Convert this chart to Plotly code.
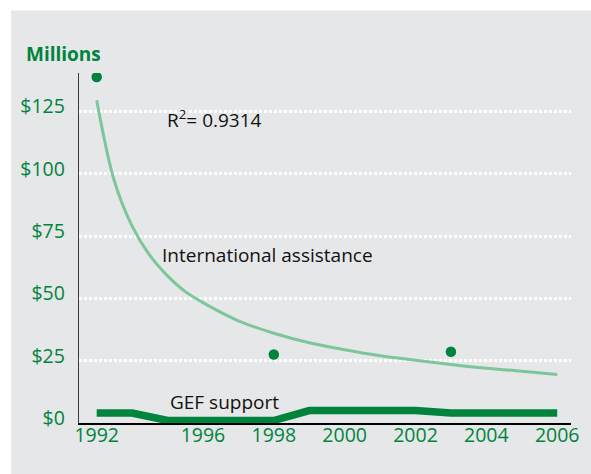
import plotly.graph_objects as go

# ---- data ----
years = ["1992", "1993", "1995", "1996", "1997", "1998", "1999",
         "2000", "2001", "2002", "2003", "2004", "2005", "2006"]
gef_support = [4, 4, 1, 1, 1, 1, 5, 5, 5, 5, 4, 4, 4, 4]
# trend line readings, at year slots (including some half-slot readings)
trend_slots = [0, 0.5, 1, 1.5, 2, 2.5, 3, 4, 5, 6, 7, 8, 9, 10, 11, 12, 13]
trend_values = [129.5, 97, 79, 67.2, 59, 52.7, 48.3, 41, 36, 32.2, 29.4, 27,
                25.2, 23.5, 22, 20.8, 19.5]
point_years = ["1992", "1998", "2003"]
point_values = [138.8, 27.5, 28.6]
y_ticks = [0, 25, 50, 75, 100, 125]
y_tick_labels = ["$0", "$25", "$50", "$75", "$100", "$125"]
x_tick_years = ["1992", "1996", "1998", "2000", "2002", "2004", "2006"]

GREEN = "#00843D"
LIGHT_GREEN = "#7DC69C"
BG = "#E6E7E8"
FONT = "Open Sans"

slot = {y: i for i, y in enumerate(years)}

fig = go.Figure()

fig.add_trace(go.Scatter(
    x=trend_slots, y=trend_values, mode="lines",
    line=dict(color=LIGHT_GREEN, width=3, shape="spline", smoothing=1.0),
    hoverinfo="skip", showlegend=False))

fig.add_trace(go.Scatter(
    x=[slot[y] for y in years], y=gef_support, mode="lines",
    line=dict(color=GREEN, width=7.5),
    showlegend=False))

fig.add_trace(go.Scatter(
    x=[slot[y] for y in point_years], y=point_values, mode="markers",
    marker=dict(color=GREEN, size=10.5),
    showlegend=False))

# gray panel behind the chart
fig.add_shape(type="rect", xref="paper", yref="paper",
              x0=(10 - 79) / 500, x1=(600 - 79) / 500,
              y0=(423.5 - 480) / 350, y1=(423.5 - 11) / 350,
              fillcolor=BG, line=dict(width=0), layer="below")

ann_font = dict(family=FONT, size=19, color="#111111")
fig.add_annotation(text="<b>Millions</b>", xref="paper", yref="paper",
                   x=(23 - 79) / 500, y=(423.5 - 55) / 350,
                   xanchor="left", yanchor="middle", showarrow=False,
                   font=dict(family=FONT, size=19, color=GREEN))
fig.add_annotation(text="R<sup>2</sup>= 0.9314", xref="paper", yref="paper",
                   x=(166 - 79) / 500, y=(423.5 - 119) / 350,
                   xanchor="left", yanchor="middle", showarrow=False, font=ann_font)
fig.add_annotation(text="International assistance", xref="paper", yref="paper",
                   x=(161 - 79) / 500, y=(423.5 - 256) / 350,
                   xanchor="left", yanchor="middle", showarrow=False, font=ann_font)
fig.add_annotation(text="GEF support", xref="paper", yref="paper",
                   x=(226.5 - 79) / 500, y=(423.5 - 402) / 350,
                   xanchor="center", yanchor="middle", showarrow=False, font=ann_font)

fig.update_layout(
    width=591, height=474,
    margin=dict(l=79, r=12, t=73, b=50.5, pad=0),
    paper_bgcolor="white", plot_bgcolor="rgba(0,0,0,0)",
    showlegend=False,
    xaxis=dict(range=[-0.5, 13.39],
               tickvals=[slot[y] for y in x_tick_years], ticktext=x_tick_years,
               showgrid=False, zeroline=False, showline=True,
               linecolor="black", linewidth=1.6, ticks="", ticklabelstandoff=-6,
               tickfont=dict(family=FONT, size=19.5, color=GREEN)),
    yaxis=dict(range=[0, 140.4], tickvals=y_ticks, ticktext=y_tick_labels,
               showgrid=True, gridcolor="white", gridwidth=2.5, griddash="3px,2px",
               zeroline=False, showline=True, linecolor="#3a3a3a", linewidth=1.4,
               ticks="", ticklabelstandoff=9, ticklabelshift=-5,
               tickfont=dict(family=FONT, size=19.5, color=GREEN)),
)

fig.write_html("out.html", config={"displayModeBar": False},
               post_script="document.body.style.margin='0';document.body.style.padding='0';")
